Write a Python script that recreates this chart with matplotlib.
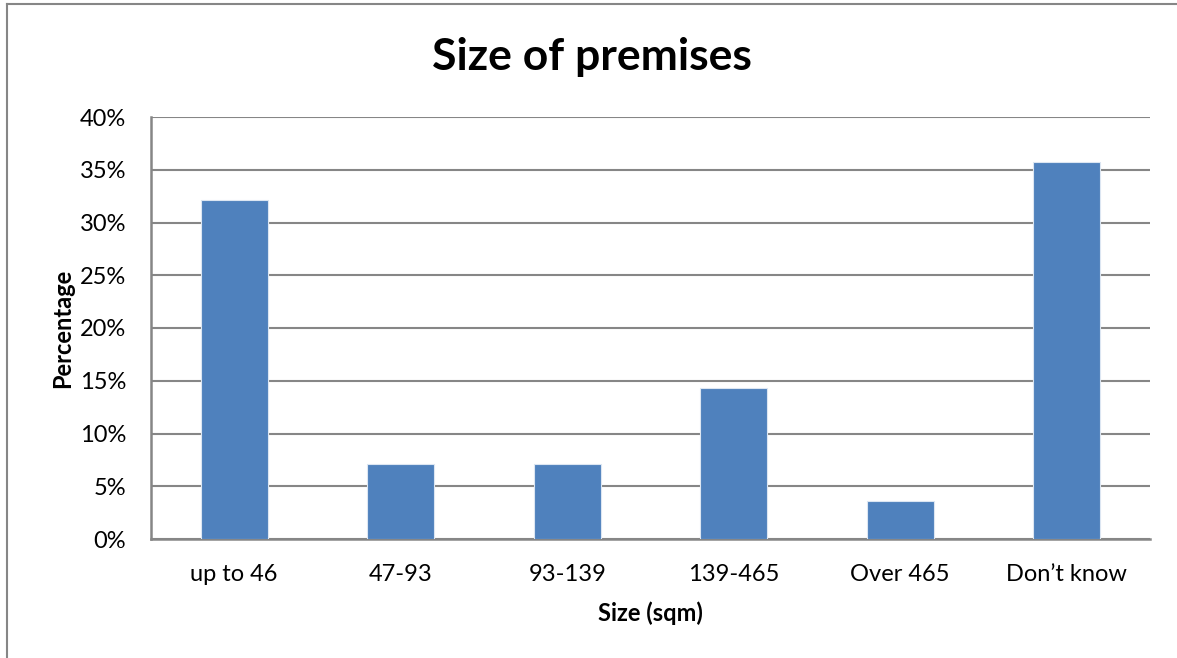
import matplotlib
matplotlib.use('Agg')
import matplotlib.pyplot as plt
from matplotlib.lines import Line2D
from matplotlib.ticker import FuncFormatter

categories = ['up to 46', '47-93', '93-139', '139-465', 'Over 465', 'Don\u2019t know']
values = [32.14, 7.14, 7.14, 14.29, 3.57, 35.71]
yticks = [0, 5, 10, 15, 20, 25, 30, 35, 40]

plt.rcParams['font.family'] = ['Lato', 'DejaVu Sans']

fig = plt.figure(figsize=(11.77, 6.58), dpi=100)
ax = fig.add_axes([151 / 1177, 1 - 539 / 658, (1150 - 151) / 1177, (539 - 117) / 658])

grid_col = '#868686'
x = range(len(categories))
ax.bar(x, values, width=0.4, color='#4f81bd', edgecolor='#dce6f2', linewidth=0.8, zorder=3)

ax.set_xlim(-0.5, len(categories) - 0.5)
ax.set_ylim(0, 40)
ax.set_yticks(yticks)
ax.yaxis.set_major_formatter(FuncFormatter(lambda v, p: f'{v:.0f}%'))
ax.set_xticks(list(x))
ax.set_xticklabels(categories)
ax.tick_params(axis='both', length=0, labelsize=17, colors='black')
ax.tick_params(axis='x', pad=18)
ax.tick_params(axis='y', pad=18)
ax.grid(axis='y', color=grid_col, linewidth=1.5, zorder=0)

for s in ['top', 'right']:
    ax.spines[s].set_visible(False)
for s in ['left', 'bottom']:
    ax.spines[s].set_color(grid_col)
    ax.spines[s].set_linewidth(1.8)

ax.set_xlabel('Size (sqm)', fontsize=17, fontweight='bold', labelpad=12)
ax.set_ylabel('Percentage', fontsize=17, fontweight='bold', labelpad=4)

fig.text(592 / 1177, 1 - 57 / 658, 'Size of premises', ha='center', va='center',
         fontsize=32, fontweight='bold')

# outer frame (only top and left edges visible)
fig.add_artist(Line2D([7 / 1177, 1], [1 - 4 / 658, 1 - 4 / 658], color=grid_col, linewidth=1.5,
                      transform=fig.transFigure))
fig.add_artist(Line2D([7 / 1177, 7 / 1177], [0, 1 - 4 / 658], color=grid_col, linewidth=1.5,
                      transform=fig.transFigure))

fig.savefig('out.png', dpi=100)
